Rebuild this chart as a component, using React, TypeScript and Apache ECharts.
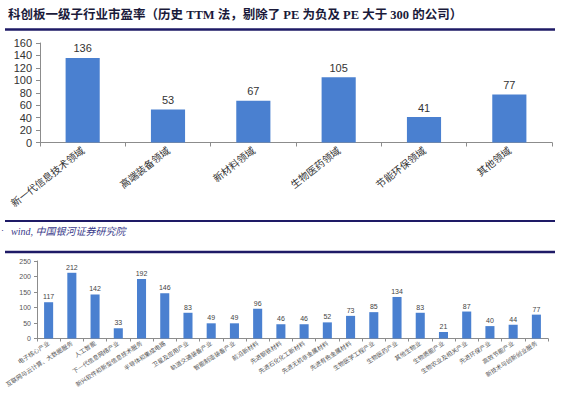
import React, { useEffect, useRef } from "react";
import * as echarts from "echarts";

const titleText = "科创板一级子行业市盈率（历史 TTM 法，剔除了 PE 为负及 PE 大于 300 的公司）";
const sourceText = "wind, 中国银河证券研究院";

const topCategories = ["新一代信息技术领域", "高端装备领域", "新材料领域", "生物医药领域", "节能环保领域", "其他领域"];
const topValues = [136, 53, 67, 105, 41, 77];

const bottomCategories = [
  "电子核心产业",
  "互联网与云计算、大数据服务",
  "人工智能",
  "下一代信息网络产业",
  "新兴软件和新型信息技术服务",
  "半导体和集成电路",
  "卫星及应用产业",
  "轨道交通装备产业",
  "智能制造装备产业",
  "前沿新材料",
  "先进钢铁材料",
  "先进石化化工新材料",
  "先进无机非金属材料",
  "先进有色金属材料",
  "生物医学工程产业",
  "生物医药产业",
  "其他生物业",
  "生物质能产业",
  "生物农业及相关产业",
  "先进环保产业",
  "高效节能产业",
  "新技术与创新创业服务",
];
const bottomValues = [117, 212, 142, 33, 192, 146, 83, 49, 49, 96, 46, 46, 52, 73, 85, 134, 83, 21, 87, 40, 44, 77];

const BAR = "#4a80d0";
const AXIS = "#8c8c8c";
const NAVY = "#1e1a66";
const CJK = "'Noto Sans CJK SC', 'Noto Sans', sans-serif";

export default function App() {
  const ref = useRef<HTMLDivElement>(null);
  useEffect(() => {
    if (!ref.current) return;
    const chart = echarts.init(ref.current, undefined, { renderer: "svg" });
    chart.setOption({
      animation: false,
      backgroundColor: "#ffffff",
      textStyle: { fontFamily: CJK },
      grid: [
        { left: 40, top: 43, width: 512, height: 99.5 },
        { left: 37, top: 261, width: 511, height: 77.5 },
      ],
      xAxis: [
        {
          gridIndex: 0,
          type: "category",
          data: topCategories,
          axisLine: { lineStyle: { color: AXIS } },
          axisTick: { show: true, length: 4, lineStyle: { color: AXIS } },
          axisLabel: { interval: 0, rotate: 38, fontSize: 10, color: "#333", margin: 6, fontFamily: CJK },
        },
        {
          gridIndex: 1,
          type: "category",
          data: bottomCategories,
          axisLine: { lineStyle: { color: AXIS } },
          axisTick: { show: true, length: 3, lineStyle: { color: AXIS } },
          axisLabel: { interval: 0, rotate: 33, fontSize: 6, color: "#555", margin: 4, fontFamily: CJK },
        },
      ],
      yAxis: [
        {
          gridIndex: 0,
          type: "value",
          min: 0,
          max: 160,
          interval: 20,
          splitLine: { show: false },
          axisLine: { show: true, lineStyle: { color: AXIS } },
          axisTick: { show: true, length: 4, lineStyle: { color: AXIS } },
          axisLabel: { fontSize: 11, color: "#333", margin: 8, fontFamily: "'Liberation Sans', sans-serif" },
        },
        {
          gridIndex: 1,
          type: "value",
          min: 0,
          max: 250,
          interval: 50,
          splitLine: { show: false },
          axisLine: { show: true, lineStyle: { color: AXIS } },
          axisTick: { show: true, length: 3, lineStyle: { color: AXIS } },
          axisLabel: { fontSize: 7, color: "#555", margin: 6, fontFamily: "'Liberation Sans', sans-serif" },
        },
      ],
      series: [
        {
          type: "bar",
          xAxisIndex: 0,
          yAxisIndex: 0,
          data: topValues,
          barWidth: "40%",
          itemStyle: { color: BAR },
          label: { show: true, position: "top", distance: 4, fontSize: 11, color: "#333", fontFamily: "'Liberation Sans', sans-serif" },
        },
        {
          type: "bar",
          xAxisIndex: 1,
          yAxisIndex: 1,
          data: bottomValues,
          barWidth: "39%",
          itemStyle: { color: BAR },
          label: { show: true, position: "top", distance: 2, fontSize: 7, color: "#444", fontFamily: "'Liberation Sans', sans-serif" },
        },
      ],
      graphic: [
        {
          type: "text",
          left: 8,
          top: 9,
          style: {
            text: titleText,
            fontSize: 12.5,
            fontWeight: "bold",
            fill: "#1a1a3a",
            fontFamily: "'Liberation Serif', 'Noto Sans CJK SC', serif",
          },
        },
        { type: "line", shape: { x1: 5, y1: 29.5, x2: 555, y2: 29.5 }, style: { stroke: NAVY, lineWidth: 2.5 } },
        { type: "line", shape: { x1: 5, y1: 221, x2: 555, y2: 221 }, style: { stroke: NAVY, lineWidth: 2 } },
        {
          type: "text",
          left: 1,
          top: 225,
          style: { text: "·", fontSize: 9, fill: "#3a3a8a" },
        },
        {
          type: "text",
          left: 11,
          top: 226,
          style: {
            text: sourceText,
            fontSize: 10,
            fontStyle: "italic",
            fill: "#3a3a8a",
            fontFamily: "'Liberation Serif', 'Noto Sans CJK SC', serif",
          },
        },
        { type: "line", shape: { x1: 5, y1: 252, x2: 555, y2: 252 }, style: { stroke: NAVY, lineWidth: 2.5 } },
      ],
    });
    return () => chart.dispose();
  }, []);
  return <div ref={ref} style={{ position: "fixed", left: 0, top: 0, width: 562, height: 398 }} />;
}
